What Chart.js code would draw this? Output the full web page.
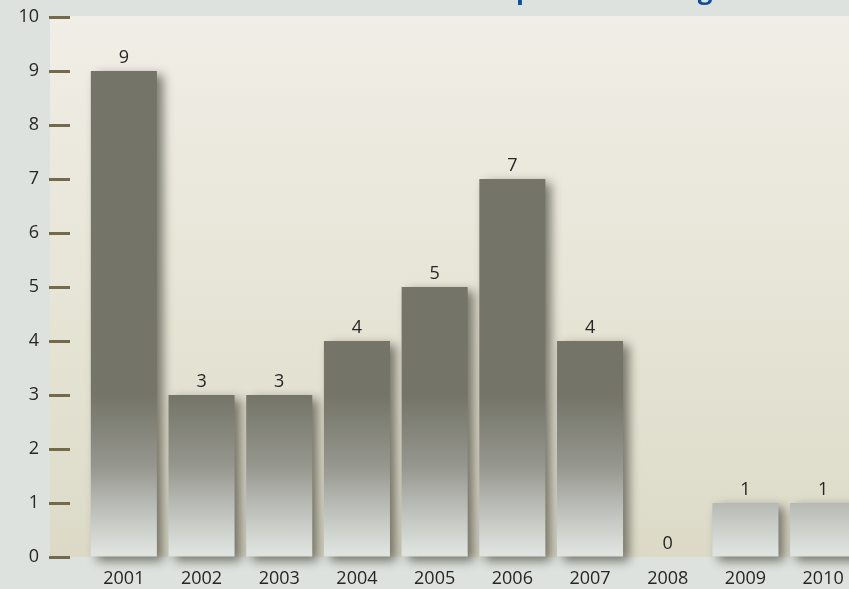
<!DOCTYPE html>
<html>
<head>
<meta charset="utf-8">
<script src="https://cdn.jsdelivr.net/npm/chart.js@4"></script>
<style>
  html, body { margin: 0; padding: 0; overflow: hidden; background: #dde2de; }
  canvas { display: block; }
</style>
</head>
<body>
<canvas id="myChart" width="862" height="589"></canvas>
<script>
const years = ['2001', '2002', '2003', '2004', '2005', '2006', '2007', '2008', '2009', '2010'];
const counts = [9, 3, 3, 4, 5, 7, 4, 0, 1, 1];
const yMin = 0;
const yMax = 10;
const titleText = 'Number of Cases per Accounting';

const FONT = '"Open Sans", "Noto Sans", sans-serif';

// panel + page background
const backdrop = {
  id: 'backdrop',
  beforeDraw(chart) {
    const { ctx, width, chartArea } = chart;
    ctx.save();
    ctx.fillStyle = '#dde2de';
    ctx.fillRect(0, 0, width, chart.height);
    const g = ctx.createLinearGradient(0, 16, 0, chartArea.bottom);
    g.addColorStop(0, '#f0eee6');
    g.addColorStop(0.5, '#e7e5d7');
    g.addColorStop(1, '#dcdac7');
    ctx.fillStyle = g;
    ctx.fillRect(50, 16, width - 50, chartArea.bottom - 16);
    ctx.restore();
  }
};

// soft drop shadow behind the bars
const barShadow = {
  id: 'barShadow',
  beforeDatasetsDraw(chart) {
    const ctx = chart.ctx;
    ctx.save();
    ctx.shadowColor = 'rgba(45, 45, 35, 0.6)';
    ctx.shadowBlur = 10;
    ctx.shadowOffsetX = 6;
    ctx.shadowOffsetY = 4;
  },
  afterDatasetsDraw(chart) {
    chart.ctx.restore();
  }
};

// value labels, y tick marks and the clipped title
const extras = {
  id: 'extras',
  afterDraw(chart) {
    const { ctx } = chart;
    const y = chart.scales.y;
    ctx.save();

    ctx.strokeStyle = '#75694c';
    ctx.lineWidth = 3;
    y.ticks.forEach((t, i) => {
      const py = Math.round(y.getPixelForTick(i)) + 0.5;
      ctx.beginPath();
      ctx.moveTo(49, py);
      ctx.lineTo(70, py);
      ctx.stroke();
    });

    ctx.fillStyle = '#262626';
    ctx.font = '18px ' + FONT;
    ctx.textAlign = 'center';
    ctx.textBaseline = 'alphabetic';
    chart.getDatasetMeta(0).data.forEach((bar, i) => {
      ctx.fillText(String(counts[i]), bar.x, bar.y - 8);
    });

    ctx.font = 'bold 26px ' + FONT;
    ctx.fillStyle = '#0b4f9c';
    ctx.textAlign = 'left';
    const pre = titleText.slice(0, titleText.indexOf(' per ') + 1);
    const tx = 516 - ctx.measureText(pre).width;
    ctx.fillText(titleText, tx, -1);

    ctx.restore();
  }
};

const barFill = (c) => {
  const chart = c.chart;
  if (!chart.chartArea) return '#75756a';
  const s = chart.scales.y;
  const g = chart.ctx.createLinearGradient(0, s.getPixelForValue(3.0), 0, s.getPixelForValue(0.1));
  g.addColorStop(0, '#747468');
  g.addColorStop(0.45, '#95968d');
  g.addColorStop(0.7, '#b8bbb5');
  g.addColorStop(1, '#dfe3df');
  return g;
};

new Chart('myChart', {
  type: 'bar',
  data: {
    labels: years,
    datasets: [{
      data: counts,
      backgroundColor: barFill,
      borderWidth: 0,
      barPercentage: 0.85,
      categoryPercentage: 1.0,
      clip: false
    }]
  },
  options: {
    responsive: false,
    animation: false,
    layout: { padding: { top: 17, left: 0, right: 0, bottom: 0 } },
    plugins: {
      legend: { display: false },
      tooltip: { enabled: false },
      title: { display: false }
    },
    scales: {
      x: {
        grid: { display: true, drawOnChartArea: false, drawTicks: true, tickLength: 11, tickColor: 'rgba(0,0,0,0)' },
        border: { display: false },
        ticks: {
          color: '#262626',
          font: { family: FONT, size: 18 },
          padding: 0,
          maxRotation: 0,
          autoSkip: false
        },
        afterFit(scale) { scale.height = 32; }
      },
      y: {
        min: yMin,
        max: yMax,
        grid: { display: true, drawOnChartArea: false, drawTicks: true, tickLength: 46, tickColor: 'rgba(0,0,0,0)' },
        border: { display: false },
        ticks: {
          stepSize: 1,
          color: '#262626',
          font: { family: FONT, size: 18 },
          padding: 0
        },
        afterFit(scale) { scale.width = 85; }
      }
    }
  },
  plugins: [backdrop, barShadow, extras]
});
</script>
</body>
</html>
